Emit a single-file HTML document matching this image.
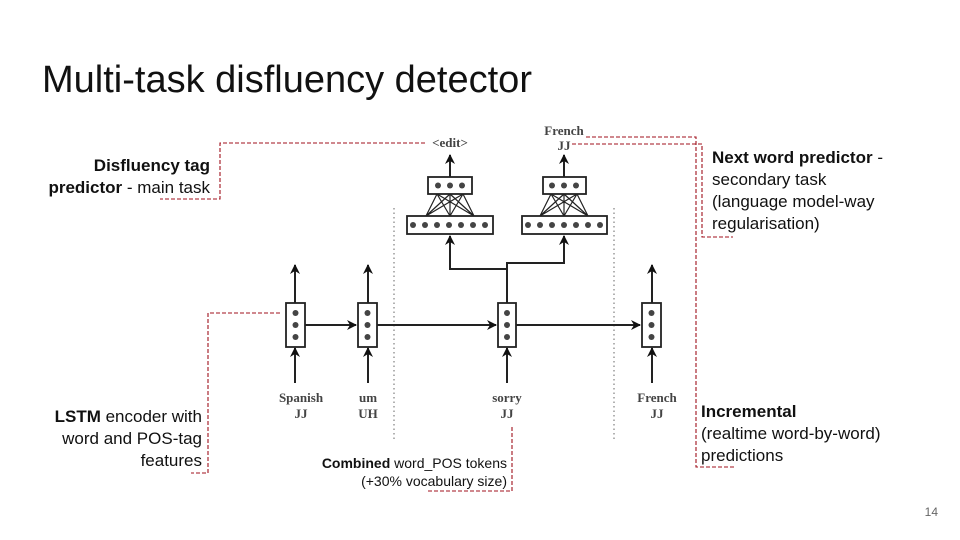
<!DOCTYPE html>
<html><head><meta charset="utf-8"><style>
html,body{margin:0;padding:0;background:#fff;}
svg{display:block;}
.t{font-family:"Liberation Sans",sans-serif;fill:#111;}
.s{font-family:"Liberation Serif",serif;fill:#444;font-size:13px;text-anchor:middle;font-weight:bold;}
</style></head><body>
<svg width="960" height="540" viewBox="0 0 960 540" xmlns="http://www.w3.org/2000/svg">
<defs><marker id="a" viewBox="0 0 10 10" refX="9" refY="5" markerWidth="5" markerHeight="5" orient="auto"><path d="M0,0L10,5L0,10L3,5z" fill="#111"/></marker></defs>
<text class="t" x="42" y="92" font-size="38">Multi-task disfluency detector</text>

<g stroke="#999" stroke-width="1.5" stroke-dasharray="1.5,3">
<line x1="394" y1="208" x2="394" y2="442"/><line x1="614" y1="208" x2="614" y2="442"/>
</g>

<g stroke="#222" stroke-width="2" fill="none">
<line x1="305" y1="325" x2="356" y2="325" marker-end="url(#a)"/>
<line x1="377" y1="325" x2="496" y2="325" marker-end="url(#a)"/>
<line x1="516" y1="325" x2="640" y2="325" marker-end="url(#a)"/>
<line x1="295" y1="303" x2="295" y2="265" marker-end="url(#a)"/>
<line x1="368" y1="303" x2="368" y2="265" marker-end="url(#a)"/>
<line x1="652" y1="303" x2="652" y2="265" marker-end="url(#a)"/>
<line x1="295" y1="383" x2="295" y2="348" marker-end="url(#a)"/>
<line x1="368" y1="383" x2="368" y2="348" marker-end="url(#a)"/>
<line x1="507" y1="383" x2="507" y2="348" marker-end="url(#a)"/>
<line x1="652" y1="383" x2="652" y2="348" marker-end="url(#a)"/>
<polyline points="507,303 507,269 450,269 450,236" marker-end="url(#a)"/>
<polyline points="507,269 507,263 564,263 564,236" marker-end="url(#a)"/>
<line x1="450" y1="177" x2="450" y2="155" marker-end="url(#a)"/>
<line x1="564" y1="177" x2="564" y2="155" marker-end="url(#a)"/>
<path d="M437,194L426,216M437,194L450,216M437,194L474,216M450,194L426,216M450,194L450,216M450,194L474,216M463,194L426,216M463,194L450,216M463,194L474,216" stroke-width="1.2"/>
<path d="M551,194L540,216M551,194L564,216M551,194L588,216M564,194L540,216M564,194L564,216M564,194L588,216M577,194L540,216M577,194L564,216M577,194L588,216" stroke-width="1.2"/>
</g>

<g stroke="#222" stroke-width="1.8" fill="#fff">
<rect x="286" y="303" width="19" height="44"/><rect x="358" y="303" width="19" height="44"/>
<rect x="498" y="303" width="18" height="44"/><rect x="642" y="303" width="19" height="44"/>
<rect x="428" y="177" width="44" height="17"/><rect x="543" y="177" width="43" height="17"/>
<rect x="407" y="216" width="86" height="18"/><rect x="522" y="216" width="85" height="18"/>
</g>
<g fill="#444">
<circle cx="295.5" cy="313" r="3"/><circle cx="295.5" cy="325" r="3"/><circle cx="295.5" cy="337" r="3"/>
<circle cx="367.5" cy="313" r="3"/><circle cx="367.5" cy="325" r="3"/><circle cx="367.5" cy="337" r="3"/>
<circle cx="507" cy="313" r="3"/><circle cx="507" cy="325" r="3"/><circle cx="507" cy="337" r="3"/>
<circle cx="651.5" cy="313" r="3"/><circle cx="651.5" cy="325" r="3"/><circle cx="651.5" cy="337" r="3"/>
<circle cx="438" cy="185.5" r="3"/><circle cx="450" cy="185.5" r="3"/><circle cx="462" cy="185.5" r="3"/>
<circle cx="552" cy="185.5" r="3"/><circle cx="564" cy="185.5" r="3"/><circle cx="576" cy="185.5" r="3"/>
<circle cx="413" cy="225" r="3"/><circle cx="425" cy="225" r="3"/><circle cx="437" cy="225" r="3"/><circle cx="449" cy="225" r="3"/><circle cx="461" cy="225" r="3"/><circle cx="473" cy="225" r="3"/><circle cx="485" cy="225" r="3"/>
<circle cx="528" cy="225" r="3"/><circle cx="540" cy="225" r="3"/><circle cx="552" cy="225" r="3"/><circle cx="564" cy="225" r="3"/><circle cx="576" cy="225" r="3"/><circle cx="588" cy="225" r="3"/><circle cx="600" cy="225" r="3"/>
</g>
<text class="s" x="301" y="402">Spanish</text><text class="s" x="301" y="418">JJ</text>
<text class="s" x="368" y="402">um</text><text class="s" x="368" y="418">UH</text>
<text class="s" x="507" y="402">sorry</text><text class="s" x="507" y="418">JJ</text>
<text class="s" x="657" y="402">French</text><text class="s" x="657" y="418">JJ</text>
<text class="s" x="450" y="147">&lt;edit&gt;</text>
<text class="s" x="564" y="135">French</text><text class="s" x="564" y="150">JJ</text>

<g stroke="#a0101c" stroke-width="1.1" stroke-dasharray="4,2" fill="none">
<polyline points="425,143 220,143 220,199 160,199"/>
<polyline points="586,137 696,137 696,467 736,467"/>
<polyline points="572,144 702,144 702,237 733,237"/>
<polyline points="280,313 208,313 208,473 191,473"/>
<polyline points="512,427 512,491 426,491"/>
</g>

<g class="t" font-size="17">
<text x="210" y="171" text-anchor="end" font-weight="bold">Disfluency tag</text>
<text x="210" y="193" text-anchor="end"><tspan font-weight="bold">predictor</tspan> - main task</text>
<text x="712" y="163"><tspan font-weight="bold">Next word predictor</tspan> -</text>
<text x="712" y="185">secondary task</text>
<text x="712" y="207">(language model-way</text>
<text x="712" y="229">regularisation)</text>
<text x="202" y="422" text-anchor="end"><tspan font-weight="bold">LSTM</tspan> encoder with</text>
<text x="202" y="444" text-anchor="end">word and POS-tag</text>
<text x="202" y="466" text-anchor="end">features</text>
<text x="701" y="417" font-weight="bold">Incremental</text>
<text x="701" y="439">(realtime word-by-word)</text>
<text x="701" y="461">predictions</text>
</g>
<g class="t" font-size="14">
<text x="507" y="468" text-anchor="end"><tspan font-weight="bold">Combined</tspan> word_POS tokens</text>
<text x="507" y="486" text-anchor="end">(+30% vocabulary size)</text>
</g>
<text x="938" y="516" font-size="12" text-anchor="end" style="fill:#666;font-family:'Liberation Sans',sans-serif">14</text>
</svg>
</body></html>
